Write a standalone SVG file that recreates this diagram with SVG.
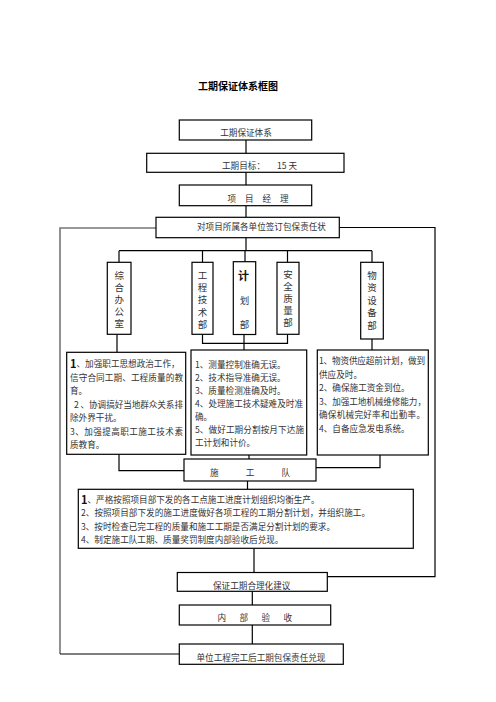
<svg xmlns="http://www.w3.org/2000/svg" width="496" height="702" viewBox="0 0 496 702">
<style>
text{font-family:"Noto Sans CJK SC","Noto Sans",sans-serif;fill:#333;dominant-baseline:central}
.t{font-size:8.6px}
.c{text-anchor:middle}
.v{font-size:9.5px;text-anchor:middle}
.vt{font-size:9.5px;writing-mode:vertical-rl;letter-spacing:2.5px}
.big{font-size:11px;font-weight:bold;fill:#111}
.title{font-size:10px;font-weight:bold;fill:#000;text-anchor:middle}
rect{fill:#fff;stroke:#000;stroke-width:1.2}
.ln{fill:none;stroke:#000;stroke-width:1.2}
.gl{fill:none;stroke:#777;stroke-width:1.6}
</style>
<rect x="0" y="0" width="496" height="702" style="fill:#fff;stroke:none"/>
<text class="title" x="238" y="85">工期保证体系框图</text>
<g id="connectors">
<path class="ln" d="M246 140V153M246 172V185M246 205.5V217M246 237.5V250.7M119 250.7H372M119 250.7V262.3M202.5 250.7V262.3M245 250.7V262M287.5 250.7V262.3M372 250.7V262.3"/>
<path class="ln" d="M117 334.5V352M202.5 334.5V343.3H287.5V334.5M244 334.5V350M372 339V350"/>
<path class="ln" d="M119 454.3V470.7H184M249 455V459M380 455V467.7H316M247.5 481V489.3M254 548.3V572.5M252.3 591V605M252.3 625V644"/>
<path class="ln" d="M339.3 227.5H435V576.7H327.3"/>
<path class="gl" d="M156 228H60V654"/>
<path class="ln" d="M60 654H179.3"/>
</g>
<g id="n1"><rect x="179.3" y="120" width="132.4" height="20"/><text class="t c" x="246" y="131.5">工期保证体系</text></g>
<g id="n2"><rect x="146.7" y="153.3" width="197.3" height="19"/><text class="t" x="222" y="164.5">工期目标：</text><text class="t" x="277" y="164.5">15 天</text></g>
<g id="n3"><rect x="179.3" y="185" width="132.4" height="20.7"/><text class="t" x="227.5" y="197.5" textLength="61" lengthAdjust="spacing">项目经理</text></g>
<g id="n4"><rect x="156" y="217.3" width="183.3" height="20.4"/><text class="t" x="197" y="226">对项目所属各单位签订包保责任状</text></g>
<g id="n5"><rect x="107.3" y="262.3" width="23.7" height="72"/>
<text class="vt" x="119.2" y="270.2">综合办公室</text></g>
<g id="n6"><rect x="192" y="262.3" width="21" height="72"/>
<text class="vt" x="202.5" y="270.5" style="letter-spacing:2.8px">工程技术部</text></g>
<g id="n7"><rect x="233.3" y="261.7" width="22.4" height="72.8"/>
<text class="big c" x="243.5" y="274.5">计</text><text class="v" x="244.5" y="300">划</text><text class="v" x="244.5" y="323.5">部</text></g>
<g id="n8"><rect x="277" y="262.3" width="22" height="72"/>
<text class="vt" x="288" y="269.7" style="letter-spacing:2.4px">安全质量部</text></g>
<g id="n9"><rect x="360.7" y="262.3" width="22.6" height="76.7"/>
<text class="vt" x="372" y="270.2" style="letter-spacing:3px">物资设备部</text></g>
<g id="n10"><rect x="66.7" y="352.3" width="119" height="102"/>
<text class="t" x="70" y="363"><tspan class="big">1</tspan>、加强职工思想政治工作，</text>
<text class="t" x="70" y="376.5" textLength="113" lengthAdjust="spacing">信守合同工期、工程质量的教</text>
<text class="t" x="70" y="390">育。</text>
<text class="t" x="74" y="403.5" textLength="109" lengthAdjust="spacing">2 、协调搞好当地群众关系排</text>
<text class="t" x="70" y="417">除外界干扰。</text>
<text class="t" x="70" y="430.5" textLength="113" lengthAdjust="spacing">3、加强提高职工施工技术素</text>
<text class="t" x="70" y="444">质教育。</text></g>
<g id="n11"><rect x="191" y="350" width="115.7" height="105"/>
<text class="t" x="195" y="364">1、测量控制准确无误。</text>
<text class="t" x="195" y="377">2、技术指导准确无误。</text>
<text class="t" x="195" y="390">3、质量检测准确及时。</text>
<text class="t" x="195" y="403" textLength="108" lengthAdjust="spacing">4、处理施工技术疑难及时准</text>
<text class="t" x="195" y="416">确。</text>
<text class="t" x="195" y="429" textLength="109" lengthAdjust="spacing">5、做好工期分割按月下达施</text>
<text class="t" x="195" y="442">工计划和计价。</text></g>
<g id="n12"><rect x="317.3" y="350" width="111" height="105"/>
<text class="t" x="319" y="360" textLength="106" lengthAdjust="spacing">1、物资供应超前计划，做到</text>
<text class="t" x="319" y="373.5">供应及时。</text>
<text class="t" x="319" y="387">2、确保施工资金到位。</text>
<text class="t" x="319" y="400.5" textLength="107" lengthAdjust="spacing">3、加强工地机械维修能力，</text>
<text class="t" x="319" y="414" textLength="106" lengthAdjust="spacing">确保机械完好率和出勤率。</text>
<text class="t" x="319" y="427.5">4、自备应急发电系统。</text></g>
<g id="n13"><rect x="184" y="459" width="132" height="22"/><text class="t" x="210" y="472" textLength="80" lengthAdjust="spacing">施工队</text></g>
<g id="n14"><rect x="78.3" y="489.3" width="335" height="59"/>
<text class="t" x="81" y="499"><tspan class="big">1</tspan>、严格按照项目部下发的各工点施工进度计划组织均衡生产。</text>
<text class="t" x="81" y="512.3" textLength="289" lengthAdjust="spacing">2、按照项目部下发的施工进度做好各项工程的工期分割计划，并组织施工。</text>
<text class="t" x="81" y="525.7">3、按时检查已完工程的质量和施工工期是否满足分割计划的要求。</text>
<text class="t" x="81" y="539">4、制定施工队工期、质量奖罚制度内部验收后兑现。</text></g>
<g id="n15"><rect x="177.3" y="572.5" width="150" height="18.8"/><text class="t" x="213" y="584.5">保证工期合理化建议</text></g>
<g id="n16"><rect x="179.3" y="605" width="151.4" height="20"/><text class="t" x="217.5" y="617" textLength="74.5" lengthAdjust="spacing">内部验收</text></g>
<g id="n17"><rect x="179.3" y="644" width="164" height="20.3"/><text class="t" x="196.5" y="656.5">单位工程完工后工期包保责任兑现</text></g>
</svg>
